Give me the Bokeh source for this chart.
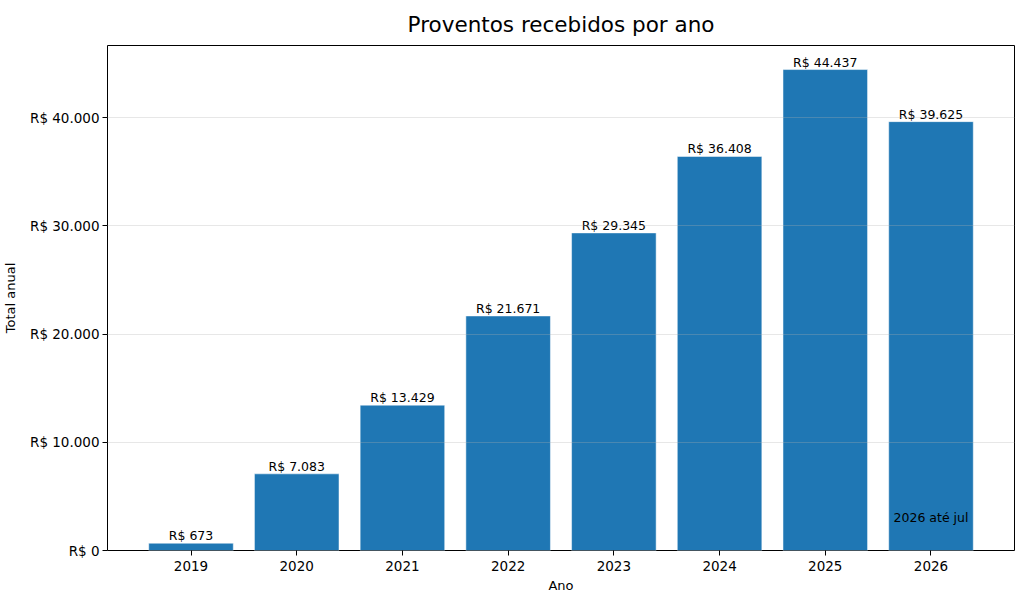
from bokeh.plotting import figure
from bokeh.models import ColumnDataSource, FixedTicker, Range1d, Label
from bokeh.embed import file_html
from bokeh.resources import INLINE

anos = [2019, 2020, 2021, 2022, 2023, 2024, 2025, 2026]
totais = [673, 7083, 13429, 21671, 29345, 36408, 44437, 39625]
rotulos = ["R$ 673", "R$ 7.083", "R$ 13.429", "R$ 21.671", "R$ 29.345", "R$ 36.408", "R$ 44.437", "R$ 39.625"]
y_ticks = [0, 10000, 20000, 30000, 40000]
y_tick_labels = ["R$ 0", "R$ 10.000", "R$ 20.000", "R$ 30.000", "R$ 40.000"]
titulo = "Proventos recebidos por ano"
nota = "2026 até jul"

FONT = "DejaVu Sans"
src = ColumnDataSource(dict(x=anos, top=totais, label=rotulos))

n = len(anos)
pad = (n - 1 + 0.8) * 0.05
p = figure(width=1024, height=595, output_backend="svg", toolbar_location=None,
           x_range=Range1d(anos[0] - 0.4 - pad, anos[-1] + 0.4 + pad),
           y_range=Range1d(0, max(totais) * 1.05),
           min_border_left=107, min_border_right=10, min_border_top=45, min_border_bottom=43,
           title=titulo)

p.title.text_font = FONT
p.title.text_font_size = "21.5px"
p.title.text_font_style = "normal"
p.title.text_color = "#000000"
p.title.align = "center"
p.title.text_line_height = 0.7
p.title.standoff = 18

p.vbar(x="x", top="top", width=0.8, source=src, color="#1f77b4", line_color="#ffffff", line_width=0.5)
p.text(x="x", y="top", text="label", source=src, text_align="center", text_baseline="bottom",
       text_font_size="12.5px", text_font={"value": FONT}, text_color="#000000")

p.add_layout(Label(x=anos[-1], y=3040, text=nota, text_align="center", text_baseline="middle",
                   text_font=FONT, text_font_size="12.5px", text_color="#000000"))

p.xaxis.ticker = FixedTicker(ticks=anos)
p.xaxis.major_label_overrides = {a: str(a) for a in anos}
p.yaxis.ticker = FixedTicker(ticks=y_ticks)
p.yaxis.major_label_overrides = {t: l for t, l in zip(y_ticks, y_tick_labels)}

for ax in (p.xaxis[0], p.yaxis[0]):
    ax.major_label_text_font = FONT
    ax.major_label_text_font_size = "13.5px"
    ax.major_label_text_color = "#000000"
    ax.axis_label_text_font = FONT
    ax.axis_label_text_font_size = "13px"
    ax.axis_label_text_font_style = "normal"
    ax.axis_label_text_color = "#000000"
    ax.minor_tick_line_color = None
    ax.major_tick_out = 5
    ax.major_tick_in = 0
    ax.axis_line_color = None
    ax.major_tick_line_color = "#000000"

p.xaxis.axis_label = "Ano"
p.yaxis.axis_label = "Total anual"
p.xaxis.axis_label_standoff = 4
p.yaxis.axis_label_standoff = 9
p.yaxis.major_label_standoff = 3

p.xgrid.grid_line_color = None
p.ygrid.grid_line_color = "#b0b0b0"
p.ygrid.grid_line_alpha = 0.3
p.ygrid.level = "overlay"
p.outline_line_color = "#000000"
p.outline_line_alpha = 1.0
p.outline_line_width = 1

open("out.html", "w").write(file_html(p, INLINE))
